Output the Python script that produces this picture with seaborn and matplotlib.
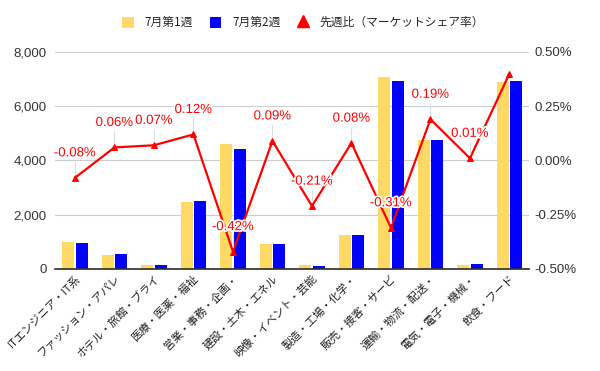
import matplotlib
matplotlib.use("Agg")
import matplotlib.pyplot as plt
import matplotlib.patheffects as pe
from matplotlib.lines import Line2D
from matplotlib.patches import Patch
import seaborn as sns
import pandas as pd
import numpy as np

categories = ["ITエンジニア・IT系", "ファッション・アパレ", "ホテル・旅館・ブライ", "医療・医薬・福祉",
              "営業・事務・企画・", "建設・土木・エネル", "映像・イベント・芸能", "製造・工場・化学・",
              "販売・接客・サービ", "運輸・物流・配送・", "電気・電子・機械・", "飲食・フード"]
week1 = [1000, 530, 130, 2480, 4600, 930, 160, 1260, 7080, 4760, 160, 6900]
week2 = [970, 570, 160, 2520, 4430, 930, 120, 1260, 6920, 4760, 165, 6920]
share_change = [-0.08, 0.06, 0.07, 0.12, -0.42, 0.09, -0.21, 0.08, -0.31, 0.19, 0.01, 0.40]
share_labels = ["-0.08%", "0.06%", "0.07%", "0.12%", "-0.42%", "0.09%", "-0.21%", "0.08%",
                "-0.31%", "0.19%", "0.01%", ""]
series_names = ["7月第1週", "7月第2週", "先週比（マーケットシェア率）"]

sns.set_theme(style="white")
plt.rcParams['font.family'] = ['Noto Sans CJK JP', 'DejaVu Sans']
num_font = ['Liberation Sans', 'DejaVu Sans']

df = pd.DataFrame({"cat": categories * 2,
                   "val": week1 + week2,
                   "series": [series_names[0]] * len(categories) + [series_names[1]] * len(categories)})

fig = plt.figure(figsize=(6, 3.71), dpi=100)
ax = fig.add_axes([0.092, 0.275, 0.79, 0.585])
yellow = "#ffd966"
blue = "#0000ff"
sns.barplot(data=df, x="cat", y="val", hue="series", palette=[yellow, blue], ax=ax,
            width=0.68, gap=0.12, legend=False, saturation=1, edgecolor="none")
ax.set_ylim(0, 8000)
ax.set_yticks([0, 2000, 4000, 6000, 8000])
ax.set_yticklabels(["0", "2,000", "4,000", "6,000", "8,000"], fontsize=9.5, color="#333333", family=num_font)
ax.yaxis.grid(True, color="#cccccc", linewidth=0.8)
ax.set_axisbelow(True)
for s in ["top", "right", "left"]:
    ax.spines[s].set_visible(False)
ax.spines["bottom"].set_color("#333333")
ax.tick_params(axis="y", length=0, pad=6)
ax.tick_params(axis="x", length=0, pad=3)
ax.set_xlabel("")
ax.set_ylabel("")
ax.set_xticks(range(len(categories)))
ax.set_xticklabels(categories, rotation=45, ha="right", rotation_mode="anchor", fontsize=8, color="#222222")
ax.set_xlim(-0.5, len(categories) - 0.5)

ax2 = ax.twinx()
x = np.arange(len(categories))
sns.lineplot(x=x, y=share_change, ax=ax2, color="red", linewidth=1.6, marker="^", markersize=5,
             markeredgecolor="red")
ax2.set_ylim(-0.5, 0.5)
ax2.set_yticks([-0.5, -0.25, 0, 0.25, 0.5])
ax2.set_yticklabels(["-0.50%", "-0.25%", "0.00%", "0.25%", "0.50%"], fontsize=9.5, color="#333333",
                    family=num_font)
ax2.tick_params(axis="y", length=0, pad=4)
for s in ["top", "right", "left", "bottom"]:
    ax2.spines[s].set_visible(False)
ax2.set_xlim(-0.5, len(categories) - 0.5)

for xi, yi, lab in zip(x, share_change, share_labels):
    if not lab:
        continue
    ax2.plot([xi, xi], [yi + 0.02, yi + 0.075], color="#dddddd", linewidth=0.8, zorder=2)
    ax2.text(xi, yi + 0.085, lab, color="red", fontsize=9.5, ha="center", va="bottom", family=num_font,
             path_effects=[pe.withStroke(linewidth=2.5, foreground="white")], zorder=5)

handles = [Patch(facecolor=yellow, edgecolor="none"),
           Patch(facecolor=blue, edgecolor="none"),
           Line2D([], [], color="red", marker="^", linestyle="none", markersize=8)]
fig.legend(handles, series_names, loc="upper center", bbox_to_anchor=(0.505, 0.985), ncol=3, frameon=False,
           fontsize=8.5, handlelength=1.0, handleheight=1.1, columnspacing=1.4, handletextpad=0.9)

fig.savefig("out.png", dpi=100)
